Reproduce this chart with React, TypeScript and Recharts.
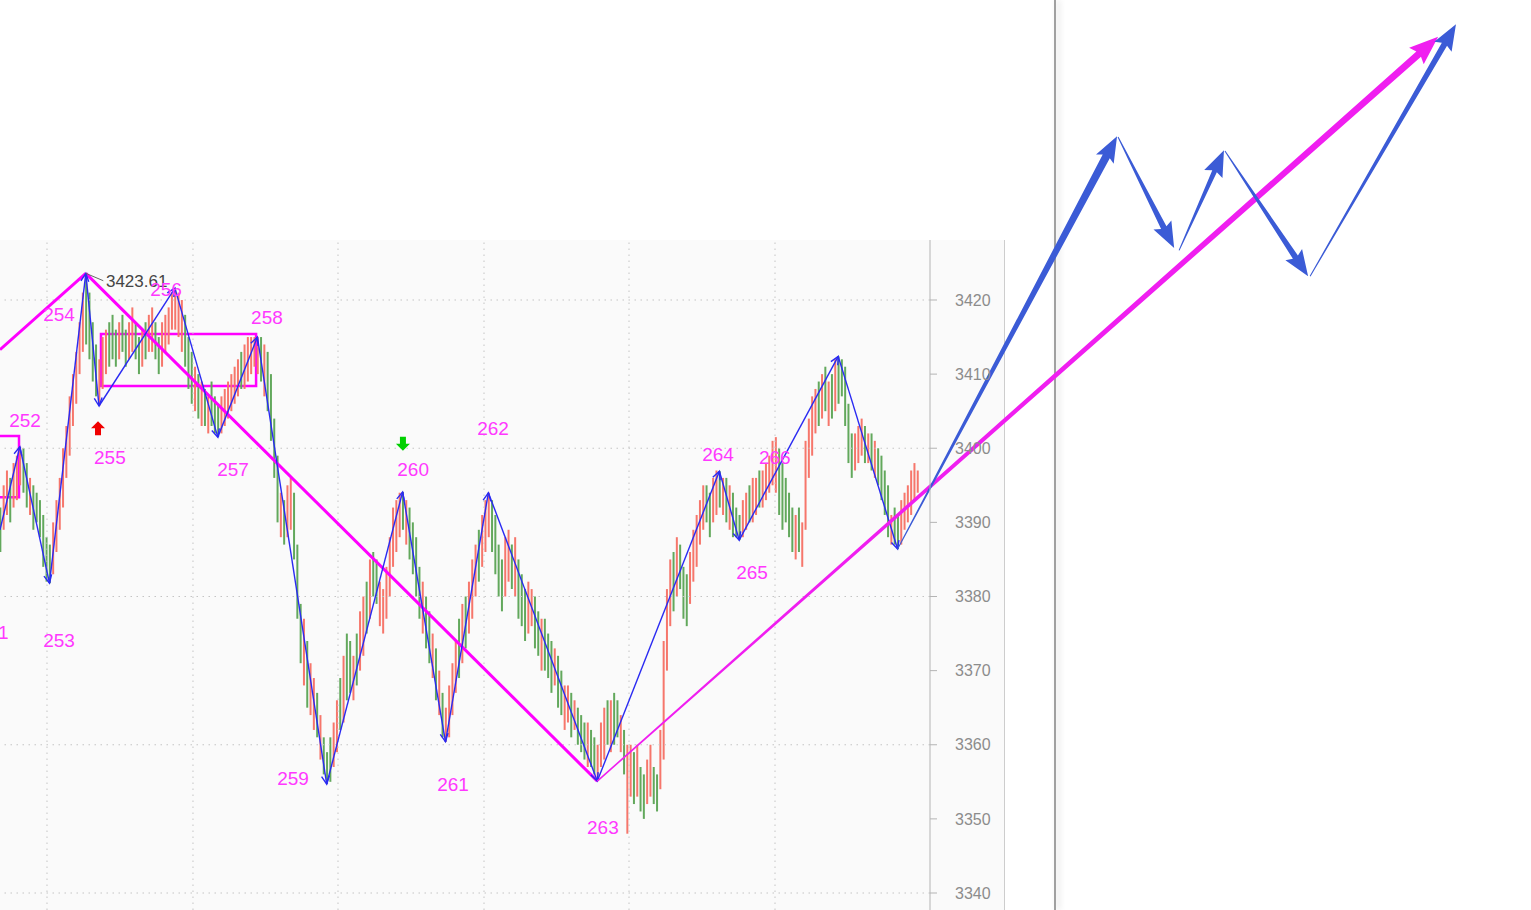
import { ComposedChart, Bar, Cell, XAxis, YAxis, ReferenceLine, ReferenceArea, ReferenceDot } from 'recharts'

// bar lows / highs, one per session (index = bar number)
const lows = [
  3386, 3389, 3391, 3390, 3392, 3393, 3395,
  3394, 3392, 3391, 3389, 3390, 3388, 3384, 3382, 3381.8,
  3383, 3386, 3389, 3392, 3396, 3399, 3403, 3406, 3410, 3413, 3414,
  3412, 3409, 3407, 3405.7,
  3408, 3410, 3411, 3412, 3411, 3412, 3413, 3411, 3412, 3413, 3412, 3410, 3411, 3412, 3413, 3413, 3412, 3410, 3411, 3413, 3414, 3416, 3416,
  3415, 3413, 3411, 3408, 3406, 3405, 3404, 3403, 3403, 3402, 3403, 3402, 3401.5,
  3402, 3403, 3404, 3405, 3406, 3407, 3408, 3408, 3409, 3410, 3411, 3410,
  3409, 3407, 3405, 3401, 3396, 3390, 3388, 3387, 3388, 3389, 3385, 3377, 3371, 3368, 3365, 3364, 3362, 3361, 3358, 3356, 3354.7,
  3355, 3357, 3359, 3362, 3363, 3366, 3367, 3366, 3368, 3370, 3372, 3375, 3377, 3380, 3379, 3376, 3375, 3377, 3380, 3384, 3386, 3388, 3389,
  3387, 3385, 3383, 3380, 3377, 3375, 3373, 3371, 3369, 3366, 3364, 3361, 3360.4,
  3361, 3364, 3367, 3369, 3371, 3373, 3375, 3377, 3380, 3382, 3384, 3386, 3388,
  3386, 3383, 3380, 3378, 3380, 3382, 3381, 3380, 3377, 3376, 3374, 3375, 3376, 3373, 3372, 3370, 3370, 3369, 3367, 3368, 3365, 3364, 3362, 3363, 3361, 3362, 3360, 3359, 3358, 3357, 3357, 3356, 3355.1,
  3357, 3358, 3360, 3359, 3360, 3361, 3359, 3356, 3348, 3353, 3352, 3353, 3351, 3350, 3352, 3353, 3352, 3351, 3354, 3358, 3370, 3376, 3378, 3380, 3381, 3377, 3376, 3379, 3382, 3384, 3387, 3389, 3390, 3388, 3390, 3391, 3392,
  3391, 3390, 3389, 3388, 3388, 3387.6,
  3388, 3389, 3390, 3390, 3391, 3392, 3392, 3393, 3394, 3395, 3394, 3391, 3389, 3390, 3388, 3386, 3385, 3386, 3384, 3389, 3396, 3399, 3402, 3403, 3404, 3405, 3403, 3404, 3405, 3406,
  3407, 3403, 3398, 3396, 3397, 3398, 3399, 3398, 3398, 3397, 3396, 3395, 3393, 3391, 3388, 3387, 3387, 3386.4,
  3387, 3389, 3390, 3391, 3393, 3394,
]

const highs = [
  3392, 3395, 3397, 3396, 3398, 3399, 3400.2,
  3400, 3398, 3396, 3395, 3394, 3393, 3391, 3388, 3387,
  3390, 3393, 3396, 3400, 3403, 3407, 3410, 3413, 3417, 3421, 3423.6,
  3421, 3417, 3414, 3412,
  3415, 3416, 3417, 3418, 3416, 3417, 3418, 3416, 3417, 3419, 3417, 3415, 3416, 3417, 3418, 3419, 3417, 3415, 3417, 3418, 3419, 3421, 3421.6,
  3421, 3420, 3418, 3415, 3413, 3411, 3410, 3409, 3408, 3407, 3409, 3407, 3406,
  3407, 3408, 3409, 3410, 3411, 3412, 3413, 3414, 3415, 3415, 3415, 3415,
  3415, 3414, 3413, 3410, 3404, 3399, 3394, 3393, 3395, 3396, 3394, 3387, 3379, 3377, 3374, 3371, 3369, 3367, 3364, 3361, 3359,
  3361, 3363, 3366, 3369, 3372, 3375, 3374, 3372, 3375, 3378, 3380, 3382, 3385, 3386, 3385, 3382, 3381, 3384, 3388, 3392, 3393, 3394, 3394.1,
  3393, 3392, 3390, 3388, 3384, 3382, 3380, 3378, 3375, 3373, 3370, 3367, 3365,
  3368, 3371, 3374, 3377, 3379, 3380, 3382, 3385, 3387, 3389, 3391, 3393, 3394,
  3393, 3391, 3387, 3385, 3388, 3389, 3387, 3388, 3385, 3383, 3381, 3382, 3381, 3380, 3378, 3377, 3377, 3375, 3374, 3373, 3372, 3370, 3368, 3368, 3367, 3366, 3365, 3364, 3363, 3363, 3362, 3361, 3360,
  3363, 3365, 3366, 3366, 3367, 3366, 3364, 3362, 3360, 3360, 3359, 3360, 3357, 3356, 3358, 3360, 3357, 3356, 3362, 3374, 3381, 3385, 3386, 3388, 3387, 3384, 3383, 3386, 3389, 3391, 3393, 3395, 3395, 3394, 3396, 3397, 3396.9,
  3396, 3396, 3395, 3394, 3392, 3391,
  3393, 3394, 3395, 3396, 3396, 3397, 3397, 3398, 3399, 3401, 3401.5, 3400, 3398, 3396, 3394, 3392, 3391, 3392, 3390, 3401, 3404, 3407, 3408, 3409, 3410, 3411, 3409, 3410, 3412, 3412.4,
  3412, 3411, 3406, 3402, 3402, 3403, 3404, 3403, 3402, 3402, 3401, 3400, 3399, 3397, 3395, 3391, 3392, 3391,
  3393, 3394, 3395, 3397, 3398, 3397,
]

// r = up bar (red), g = down bar (green)
const barColors =
  'grrgrrr' + 'ggrgggggg' + 'rrrrrrrrrrg' + 'gggr' + 'rrgggrggrrggrgrrggrrrrr' +
  'rrgggrgrgrggg' + 'rrrrrrgrrrrr' + 'grggggrgrrgggrgrrgrgg' + 'grrgrggrgrrgrggrrrrrrrg' +
  'rggggrggrgrgr' + 'rrrgrgrrrgrrr' + 'ggggrrgrgggrrggrgggrggrrgrgggrggr' +
  'rrgrggrgrrgrggrrggrrrrgrgggrrrrrggrrg' + 'rgrggg' + 'rrgrrgrrrrrgggggrgrrrrrgrgrgrg' +
  'ggggrrrgrgrggggrgg' + 'rrrrrr'

// blue zigzag pivots (bar index, price)
const blueX = [0, 6, 15, 26, 30, 53, 66, 78, 99, 122, 135, 148, 181, 218, 224, 254, 272]
const blueY = [3389, 3400.2, 3381.8, 3423.6, 3405.7, 3421.6, 3401.5, 3415, 3354.7, 3394.1, 3360.4, 3394, 3355.1, 3396.9, 3387.6, 3412.4, 3386.4]

// magenta zigzag pivots
const pinkX = [0, 26, 181]
const pinkY = [3413.3, 3423.6, 3355.1]

// wave labels
const labelText = ['251', '252', '253', '254', '255', '256', '257', '258', '259', '260', '261', '262', '263', '264', '265', '266']
const labelX = [-2.2, 7.6, 17.9, 17.9, 33.3, 50.3, 70.6, 80.9, 88.8, 125.2, 137.3, 149.4, 182.7, 217.6, 227.9, 234.8]
const labelY = [3375.1, 3403.7, 3374.1, 3418.0, 3398.8, 3421.4, 3397.1, 3417.6, 3355.5, 3397.1, 3354.6, 3402.7, 3348.9, 3399.2, 3383.2, 3398.8]

// projected moves drawn by hand (from, to)
const projFromX = [272, 338.8, 357.3, 371.2, 397.0]
const projFromY = [3386.4, 3442.0, 3426.7, 3440.1, 3423.2]
const projToX = [338.5, 355.8, 370.9, 396.4, 441.2]
const projToY = [3442.1, 3427.0, 3440.2, 3423.2, 3457.2]
const projWidth = [8, 6, 5, 6, 6]

const priceTicks = [3340, 3350, 3360, 3370, 3380, 3390, 3400, 3410, 3420]
const gridPrices = [3340, 3360, 3380, 3400, 3420]
const gridBars = [14.24, 58.48, 102.42, 146.67, 190.61, 234.85]

const bars = lows.map((lo, i) => ({ i, range: [lo, highs[i]], up: barColors[i] === 'r' }))

const RED = '#f6766b'
const GREEN = '#62a85c'
const BLUE = '#2a2af2'
const PINK = '#ff00ff'
const ARROW = '#3b5bd6'
const FONT = '"Liberation Sans", Arial, sans-serif'

function taper(w0: number, w1: number, len: number, half: number, color: string) {
  return (p: any) => {
    const { x1, y1, x2, y2 } = p
    const d = Math.hypot(x2 - x1, y2 - y1) || 1
    const ux = (x2 - x1) / d, uy = (y2 - y1) / d
    const nx = -uy, ny = ux
    const bx = x2 - ux * len, by = y2 - uy * len
    const pts = [
      [x1 + nx * w0 / 2, y1 + ny * w0 / 2],
      [bx + nx * w1 / 2, by + ny * w1 / 2],
      [bx - ux * 3 + nx * half, by - uy * 3 + ny * half],
      [x2, y2],
      [bx - ux * 3 - nx * half, by - uy * 3 - ny * half],
      [bx - nx * w1 / 2, by - ny * w1 / 2],
      [x1 - nx * w0 / 2, y1 - ny * w0 / 2],
    ]
    return <polygon points={pts.map(q => q.join(',')).join(' ')} fill={color} />
  }
}

function legArrow(p: any) {
  const { x1, y1, x2, y2 } = p
  const d = Math.hypot(x2 - x1, y2 - y1) || 1
  const ux = (x2 - x1) / d, uy = (y2 - y1) / d
  const a = 0.45, L = 9
  const c = Math.cos(a), s = Math.sin(a)
  const lx = x2 - L * (ux * c - uy * s), ly = y2 - L * (uy * c + ux * s)
  const rx = x2 - L * (ux * c + uy * s), ry = y2 - L * (uy * c - ux * s)
  return (
    <g stroke={BLUE} strokeWidth={1.4} fill="none">
      <line x1={x1} y1={y1} x2={x2} y2={y2} />
      <polyline points={`${lx},${ly} ${x2},${y2} ${rx},${ry}`} />
    </g>
  )
}

function blockArrow(up: boolean, color: string) {
  return (p: any) => {
    const { cx, cy } = p
    const k = up ? 1 : -1
    const pts = [
      [cx, cy - 7 * k], [cx + 7, cy], [cx + 3, cy], [cx + 3, cy + 7 * k],
      [cx - 3, cy + 7 * k], [cx - 3, cy], [cx - 7, cy],
    ]
    return <polygon points={pts.map(q => q.join(',')).join(' ')} fill={color} />
  }
}

function textShape(text: string, color: string, size: number, anchor: string) {
  return (p: any) => (
    <text x={p.cx} y={p.cy} fill={color} fontSize={size} fontFamily={FONT} textAnchor={anchor} dominantBaseline="central">
      {text}
    </text>
  )
}

export default function App() {
  return (
    <div style={{ position: 'absolute', left: 0, top: 0, width: 1531, height: 910, background: '#fff', overflow: 'hidden' }}>
      <div style={{ position: 'absolute', left: 0, top: 240, width: 1004, height: 670, background: '#fafafa', borderRight: '1px solid #cdcdcd' }} />
      <div style={{ position: 'absolute', left: 1054, top: 0, width: 2, height: 910, background: '#a0a0a0', boxShadow: '3px 0 6px rgba(0,0,0,0.18)' }} />
      <div style={{ position: 'absolute', left: 0, top: 0 }}>
        <ComposedChart width={1531} height={910} data={bars} margin={{ top: 240, right: 527, bottom: 0, left: 0 }}>
          <XAxis dataKey="i" type="number" domain={[0, 281.818]} allowDataOverflow hide />
          <YAxis
            orientation="right"
            width={74}
            domain={[3337.707, 3428.094]}
            allowDataOverflow
            ticks={priceTicks}
            interval={0}
            tickSize={7}
            tickMargin={18}
            axisLine={{ stroke: '#b4b4b4' }}
            tickLine={{ stroke: '#b4b4b4' }}
            tick={{ fill: '#8c8c8c', fontSize: 16, fontFamily: FONT }}
          />
          {gridPrices.map(v => (
            <ReferenceLine key={'h' + v} y={v} stroke="#c4c4c4" strokeDasharray="1.5 4.5" />
          ))}
          {gridBars.map(v => (
            <ReferenceLine key={'v' + v} x={v} stroke="#c4c4c4" strokeDasharray="1.5 4.5" />
          ))}
          <Bar dataKey="range" barSize={2} isAnimationActive={false}>
            {bars.map(b => (
              <Cell key={b.i} fill={b.up ? RED : GREEN} />
            ))}
          </Bar>

          <ReferenceArea x1={-3} x2={5.76} y1={3393.4} y2={3401.65} fill="none" stroke={PINK} strokeWidth={2.5} ifOverflow="visible" />
          <ReferenceArea x1={30.6} x2={77.6} y1={3408.4} y2={3415.4} fill="none" stroke={PINK} strokeWidth={2.5} ifOverflow="visible" />

          {pinkX.slice(1).map((x, k) => (
            <ReferenceLine
              key={'p' + k}
              segment={[{ x: pinkX[k], y: pinkY[k] }, { x, y: pinkY[k + 1] }]}
              stroke={PINK}
              strokeWidth={3}
              ifOverflow="visible"
            />
          ))}

          {blueX.slice(1).map((x, k) => (
            <ReferenceLine
              key={'b' + k}
              segment={[{ x: blueX[k], y: blueY[k] }, { x, y: blueY[k + 1] }]}
              shape={legArrow}
              ifOverflow="visible"
            />
          ))}

          <ReferenceLine
            segment={[{ x: 26, y: 3423.6 }, { x: 31.3, y: 3422.6 }]}
            stroke="#666"
            strokeWidth={1}
            ifOverflow="visible"
          />
          <ReferenceDot x={32.1} y={3422.56} r={0} ifOverflow="visible" shape={textShape('3423.61', '#444', 17, 'start')} />

          {labelText.map((t, k) => (
            <ReferenceDot
              key={'l' + t}
              x={labelX[k]}
              y={labelY[k]}
              r={0}
              ifOverflow="visible"
              shape={textShape(t, '#ff38ff', 19, 'middle')}
            />
          ))}

          <ReferenceDot x={29.7} y={3402.7} r={0} ifOverflow="visible" shape={blockArrow(true, '#f00000')} />
          <ReferenceDot x={122.1} y={3400.6} r={0} ifOverflow="visible" shape={blockArrow(false, '#00d000')} />

          <ReferenceLine
            segment={[{ x: 181, y: 3355.1 }, { x: 435.8, y: 3455.5 }]}
            shape={taper(1.5, 7, 26, 11, '#f01ef0')}
            ifOverflow="visible"
          />
          {projToX.map((x, k) => (
            <ReferenceLine
              key={'a' + k}
              segment={[{ x: projFromX[k], y: projFromY[k] }, { x, y: projToY[k] }]}
              shape={taper(1, projWidth[k], 23, 10, ARROW)}
              ifOverflow="visible"
            />
          ))}
        </ComposedChart>
      </div>
    </div>
  )
}
